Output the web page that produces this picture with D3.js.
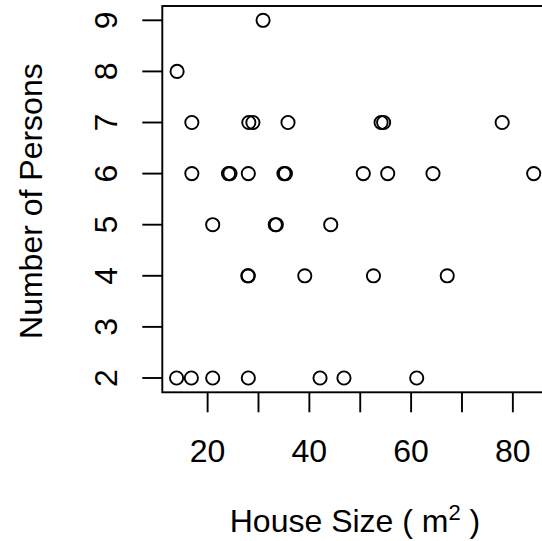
<!DOCTYPE html>
<html>
<head>
<meta charset="utf-8">
<script src="https://cdn.jsdelivr.net/npm/d3@7"></script>
<style>
  html, body { margin: 0; padding: 0; background: #fff; }
  svg { display: block; }
  text { font-family: "Liberation Sans", Arial, Helvetica, sans-serif; fill: #000; }
</style>
</head>
<body>
<script>
// House size (m²) and number of persons per household
const houseSize = [
  30.9,
  14.0,
  16.9, 28.1, 28.9, 35.8, 54.1, 54.6, 77.9,
  16.9, 24.1, 24.4, 28.0, 35.0, 35.3, 50.6, 55.4, 64.3, 84.1,
  21.0, 33.3, 33.5, 44.2,
  27.9, 28.0, 39.1, 52.6, 67.1,
  13.9, 16.8, 21.0, 28.0, 42.1, 46.8, 61.1
];
const persons = [
  9,
  8,
  7, 7, 7, 7, 7, 7, 7,
  6, 6, 6, 6, 6, 6, 6, 6, 6, 6,
  5, 5, 5, 5,
  4, 4, 4, 4, 4,
  2, 2, 2, 2, 2, 2, 2
];
const xTicks = [20, 30, 40, 50, 60, 70, 80];
const xTickLabels = [20, 40, 60, 80];
const yTicks = [2, 3, 4, 5, 6, 7, 8, 9];

(function () {
  const W = 542, H = 541;
  const svg = d3.select("body").append("svg").attr("width", W).attr("height", H);

  // plot region (right side runs past the window edge)
  const pL = 162.3, pR = 548, pT = 6, pB = 392.3;

  const pad = (lo, hi) => [lo - (hi - lo) * 0.04, hi + (hi - lo) * 0.04];
  const x = d3.scaleLinear().domain(pad(d3.min(houseSize), d3.max(houseSize))).range([pL, pR]);
  const y = d3.scaleLinear().domain(pad(2, 9)).range([pB, pT]);

  const fontSize = "32px";

  // frame
  svg.append("rect")
    .attr("x", pL).attr("y", pT)
    .attr("width", pR - pL).attr("height", pB - pT)
    .attr("fill", "none").attr("stroke", "#000").attr("stroke-width", 1.9);

  // x axis
  const tickLen = 20;
  const xg = svg.append("g");
  xg.selectAll("line").data(xTicks).join("line")
    .attr("x1", d => x(d)).attr("x2", d => x(d))
    .attr("y1", pB).attr("y2", pB + tickLen)
    .attr("stroke", "#000").attr("stroke-width", 1.9);
  xg.selectAll("text").data(xTickLabels).join("text")
    .attr("x", d => x(d)).attr("y", 462)
    .attr("text-anchor", "middle")
    .style("font-size", fontSize)
    .text(d => d);

  // y axis
  const yg = svg.append("g");
  yg.selectAll("line").data(yTicks).join("line")
    .attr("x1", pL - tickLen).attr("x2", pL)
    .attr("y1", d => y(d)).attr("y2", d => y(d))
    .attr("stroke", "#000").attr("stroke-width", 1.9);
  yg.selectAll("text").data(yTicks).join("text")
    .attr("transform", d => `translate(117,${y(d)}) rotate(-90)`)
    .attr("text-anchor", "middle")
    .style("font-size", fontSize)
    .text(d => d);

  // axis titles
  const xt = svg.append("text")
    .attr("x", 355).attr("y", 531.5)
    .attr("text-anchor", "middle")
    .style("font-size", fontSize);
  xt.append("tspan").text("House Size ( m");
  xt.append("tspan").attr("dy", -12).style("font-size", "22px").text("2");
  xt.append("tspan").attr("dy", 12).text(" )");

  svg.append("text")
    .attr("transform", `translate(42,${(pT + pB) / 2 + 2}) rotate(-90)`)
    .attr("text-anchor", "middle")
    .style("font-size", fontSize)
    .text("Number of Persons");

  // points
  svg.append("g").selectAll("circle").data(houseSize).join("circle")
    .attr("cx", d => x(d))
    .attr("cy", (d, i) => y(persons[i]))
    .attr("r", 6.6)
    .attr("fill", "none")
    .attr("stroke", "#000")
    .attr("stroke-width", 1.9);
})();
</script>
</body>
</html>
